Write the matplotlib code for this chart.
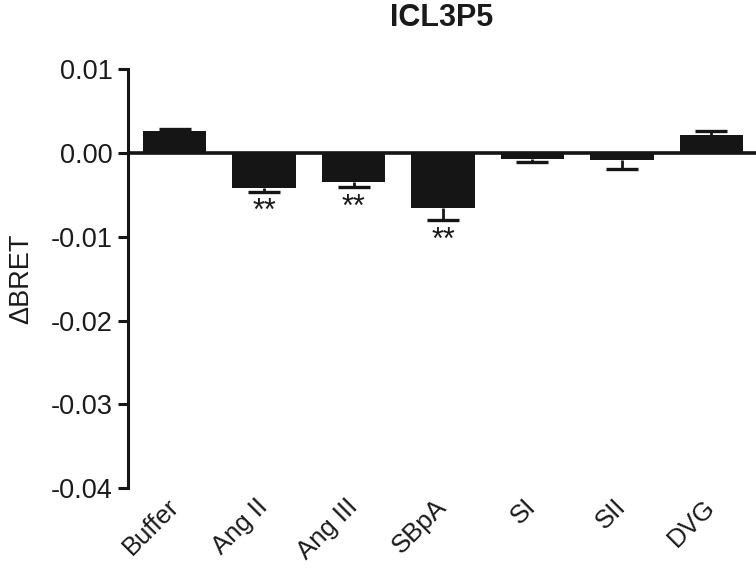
import numpy as np
import matplotlib
matplotlib.use("Agg")
import matplotlib.pyplot as plt

plt.rcParams["font.family"] = ["Liberation Sans", "DejaVu Sans"]

# ── Data ──────────────────────────────────────────────────────────────────────
groups = ["Buffer", "Ang II", "Ang III", "SBpA", "SI", "SII", "DVG"]
means  = [0.0026, -0.0042, -0.0035, -0.0066, -0.0007, -0.0008, 0.0022]
sems   = [0.0003, 0.0004, 0.0006, 0.0014, 0.0004, 0.0011, 0.0005]
stars  = ["", "**", "**", "**", "", "", ""]
yticks = [0.01, 0.00, -0.01, -0.02, -0.03, -0.04]

C_BAR  = "#151515"
C_TEXT = "#1a1a1a"

# ── Figure ────────────────────────────────────────────────────────────────────
fig = plt.figure(figsize=(7.56, 5.76), dpi=100)
ax = fig.add_axes([0.169, 0.1528, 0.831, 0.7266])

x = np.arange(len(groups))
means = np.array(means)
sems = np.array(sems)

ax.bar(x, means, width=0.71, color=C_BAR, zorder=3)

# one-sided error bars, pointing away from zero
pos = means >= 0
neg = ~pos
eb_kw = dict(fmt="none", ecolor=C_BAR, elinewidth=2.0, capsize=11.5,
             capthick=2.4, zorder=2)
if pos.any():
    _, caps, _ = ax.errorbar(x[pos], means[pos],
                             yerr=[np.zeros(pos.sum()), sems[pos]], **eb_kw)
    caps[0].set_visible(False)
if neg.any():
    _, caps, _ = ax.errorbar(x[neg], means[neg],
                             yerr=[sems[neg], np.zeros(neg.sum())], **eb_kw)
    caps[1].set_visible(False)

# significance marks
for xi, m, s, st in zip(x, means, sems, stars):
    if st:
        ax.annotate(st, (xi, m - s), xytext=(0, -4), textcoords="offset points",
                    ha="center", va="top", fontsize=22, color=C_TEXT)

# zero line in place of the bottom spine
ax.axhline(0, color=C_BAR, lw=2.6, zorder=4)

ax.set_xlim(-0.525, 6.5)
ax.set_ylim(-0.04, 0.01)
ax.set_yticks(yticks)
ax.set_yticklabels([f"{t:.2f}" for t in yticks])

ax.set_xticks(x)
ax.set_xticklabels(groups, rotation=45, ha="right", va="center",
                   rotation_mode="anchor", fontsize=18.5, color=C_TEXT)
ax.tick_params(axis="x", length=0, pad=11)
ax.tick_params(axis="y", length=7.5, width=2.2, color=C_BAR,
               labelsize=19.5, labelcolor=C_TEXT, pad=3.5)

for side in ["top", "right", "bottom"]:
    ax.spines[side].set_visible(False)
ax.spines["left"].set_linewidth(2.2)
ax.spines["left"].set_color(C_BAR)

ax.set_ylabel("\u0394BRET", fontsize=19.5, color=C_TEXT, labelpad=12)
ax.set_title("ICL3P5", fontsize=22, fontweight="bold", color=C_TEXT, pad=31)

fig.savefig("out.png", dpi=100)
